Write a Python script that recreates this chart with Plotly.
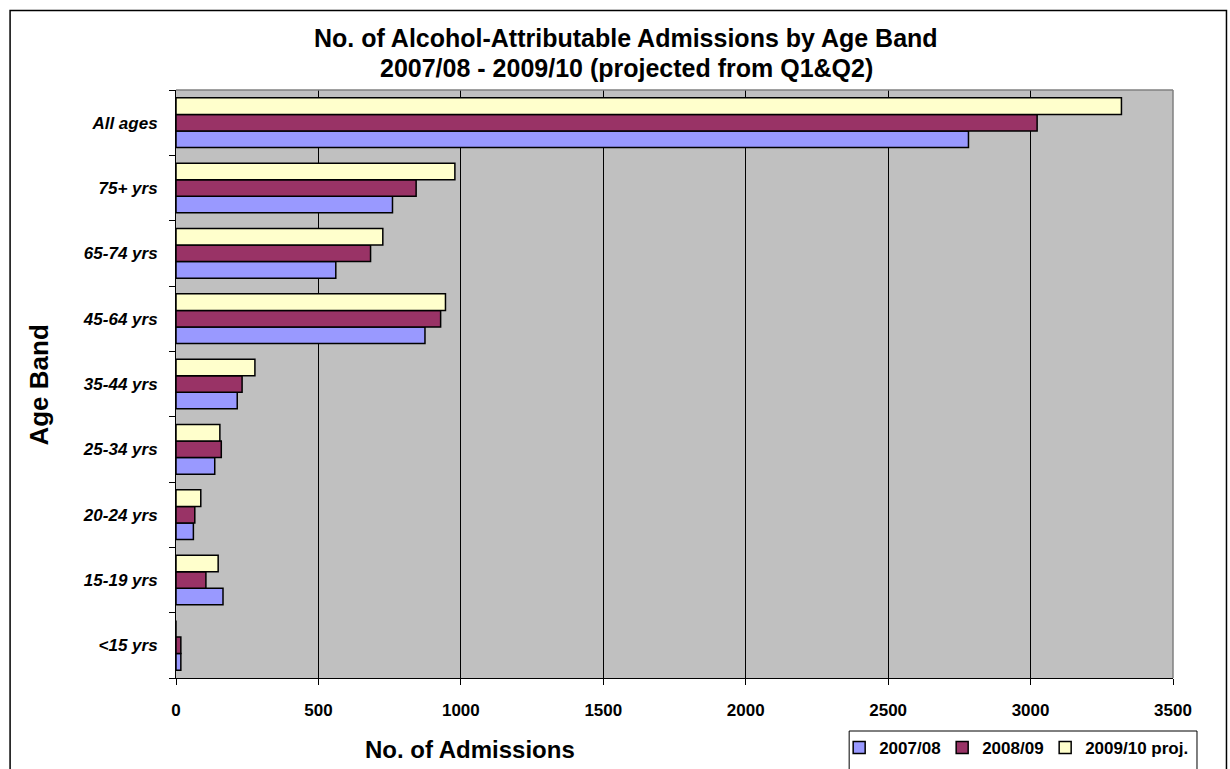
import plotly.graph_objects as go

categories = ["<15 yrs", "15-19 yrs", "20-24 yrs", "25-34 yrs", "35-44 yrs",
              "45-64 yrs", "65-74 yrs", "75+ yrs", "All ages"]
series_names = ["2007/08", "2008/09", "2009/10 proj."]
v_2007_08 = [17, 165, 61, 136, 215, 874, 561, 760, 2782]
v_2008_09 = [17, 105, 66, 159, 232, 929, 683, 843, 3023]
v_2009_10 = [0, 148, 87, 154, 277, 946, 726, 979, 3319]
colors = ["#9999FF", "#993366", "#FFFFCC"]
legend_widths = [58, 58, 115]
x_ticks = [0, 500, 1000, 1500, 2000, 2500, 3000, 3500]
title_lines = ["No. of Alcohol-Attributable Admissions by Age Band",
               "2007/08 - 2009/10 (projected from Q1&Q2)"]

FONT = "Liberation Sans, Arial, sans-serif"

fig = go.Figure()
for name, vals, col, lw in zip(series_names, [v_2007_08, v_2008_09, v_2009_10], colors, legend_widths):
    fig.add_trace(go.Bar(
        y=categories, x=vals, name=name, orientation="h", legendwidth=lw,
        marker=dict(color=col, line=dict(color="#000000", width=1.5)),
    ))

W, H = 1230, 769
ml, mr, mt, mb = 175.5, 57, 90, 91
pw, ph = W - ml - mr, H - mt - mb

def px_x(p):
    return (p - ml) / pw

def px_y(p):
    return (H - mb - p) / ph

annotations = [
    dict(text="<b>" + title_lines[0] + "</b>", xref="paper", yref="paper",
         x=px_x(626), y=px_y(38), xanchor="center", yanchor="middle",
         showarrow=False, font=dict(size=25, family=FONT, color="#000000")),
    dict(text="<b>" + title_lines[1] + "</b>", xref="paper", yref="paper",
         x=px_x(626), y=px_y(68), xanchor="center", yanchor="middle",
         showarrow=False, font=dict(size=25, family=FONT, color="#000000")),
    dict(text="<b>No. of Admissions</b>", xref="paper", yref="paper",
         x=px_x(470), y=px_y(749), xanchor="center", yanchor="middle",
         showarrow=False, font=dict(size=24, family=FONT, color="#000000")),
    dict(text="<b>Age Band</b>", xref="paper", yref="paper",
         x=px_x(38), y=px_y(385), xanchor="center", yanchor="middle", textangle=-90,
         showarrow=False, font=dict(size=26, family=FONT, color="#000000")),
]

fig.update_layout(
    width=W, height=H,
    margin=dict(l=ml, r=mr, t=mt, b=mb, pad=0, autoexpand=False),
    paper_bgcolor="#FFFFFF", plot_bgcolor="#C0C0C0",
    barmode="group", bargap=0.24, bargroupgap=0,
    font=dict(family=FONT, color="#000000"),
    xaxis=dict(
        range=[0, 3500], tickvals=x_ticks, ticktext=[str(t) for t in x_ticks],
        showgrid=True, gridcolor="#000000", gridwidth=1,
        showline=True, linecolor="#000000", linewidth=1,
        ticks="outside", ticklen=6, tickcolor="#000000",
        tickfont=dict(size=17, family=FONT, color="#000000", weight="bold"),
        ticklabelstandoff=11, zeroline=False,
        mirror=False, fixedrange=True, automargin=False,
    ),
    yaxis=dict(
        categoryorder="array", categoryarray=categories,
        showgrid=False, showline=True, linecolor="#000000", linewidth=1,
        ticks="outside", ticklen=6, tickcolor="#000000", tickson="boundaries",
        tickfont=dict(size=17, family=FONT, color="#000000", weight="bold", style="italic"),
        ticklabelstandoff=14,
        fixedrange=True, automargin=False,
    ),
    legend=dict(
        orientation="h", x=px_x(839), y=px_y(748), xanchor="left", yanchor="middle",
        borderwidth=0, bgcolor="rgba(0,0,0,0)",
        font=dict(size=17, family=FONT, color="#000000", weight="bold"),
        traceorder="normal", itemwidth=30, entrywidth=58, entrywidthmode="pixels",
    ),
    annotations=annotations,
    shapes=[
        dict(type="rect", xref="paper", yref="paper",
             x0=px_x(9.5), x1=px_x(1226.5), y0=px_y(790), y1=px_y(10.5),
             line=dict(color="#000000", width=1.5), fillcolor="rgba(0,0,0,0)", layer="below"),
        dict(type="rect", xref="paper", yref="paper",
             x0=px_x(849), x1=px_x(1197), y0=px_y(790), y1=px_y(731),
             line=dict(color="#000000", width=1), fillcolor="#FFFFFF", layer="below"),
        dict(type="line", xref="paper", yref="paper", x0=0, x1=1, y0=1, y1=1,
             line=dict(color="#808080", width=1.5)),
        dict(type="line", xref="paper", yref="paper", x0=1, x1=1, y0=0, y1=1,
             line=dict(color="#808080", width=1.5)),
    ],
)

fig.write_html("out.html")
